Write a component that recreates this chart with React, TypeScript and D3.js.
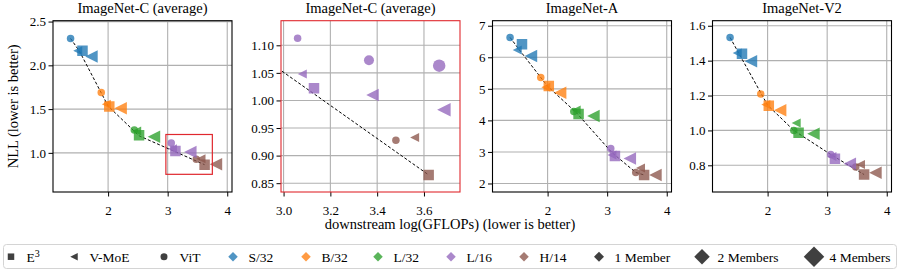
import React, { useEffect, useRef } from 'react';
import * as d3 from 'd3';

// model sizes and their colours
const MODELS = ['S/32', 'B/32', 'L/32', 'L/16', 'H/14'];
const COLORS = ['#1f77b4', '#ff7f0e', '#2ca02c', '#9467bd', '#8c564b'];

// downstream log(GFLOPs), shared by all panels
const X_VIT = [1.37, 1.885, 2.44, 3.06, 3.48];
const X_VMOE_1 = [1.49, 1.97, 2.48, 3.08, 3.56];
const X_E3 = [1.57, 2.02, 2.52, 3.13, 3.62];
const X_VMOE_2 = [1.72, 2.21, 2.77, 3.38, 3.81];

// ImageNet-C (average) NLL
const C_VIT = [2.307, 1.69, 1.26, 1.113, 0.928];
const C_VMOE_1 = [2.167, 1.555, 1.25, 1.048, 0.933];
const C_E3 = [2.167, 1.53, 1.2, 1.022, 0.865];
const C_VMOE_2 = [2.1, 1.51, 1.185, 1.01, 0.87];
const C_FRONT_X = [1.37, 1.52, 2.0, 2.52, 3.62];
const C_FRONT_Y = [2.307, 2.16, 1.535, 1.195, 0.865];

// zoomed panel: extra L/16 ensembles
const ZOOM_VIT_X = [3.365, 3.665];
const ZOOM_VIT_Y = [1.073, 1.063];
const ZOOM_VIT_M = [2, 4];
const ZOOM_VMOE_X = [3.685];
const ZOOM_VMOE_Y = [0.983];
const ZOOM_VMOE_M = [4];
const ZOOM_BOX_X = [2.97, 3.75];
const ZOOM_BOX_Y = [0.755, 1.21];

// ImageNet-A NLL
const A_VIT = [6.63, 5.36, 4.28, 3.11, 2.35];
const A_VMOE_1 = [6.23, 5.05, 4.33, 2.9, 2.49];
const A_E3 = [6.41, 5.09, 4.2, 2.87, 2.27];
const A_VMOE_2 = [6.04, 4.88, 4.14, 2.79, 2.27];
const A_FRONT_X = [1.37, 1.52, 2.0, 2.48, 3.08, 3.48, 3.62];
const A_FRONT_Y = [6.63, 6.25, 5.08, 4.25, 2.98, 2.35, 2.27];

// ImageNet-V2 NLL
const V2_VIT = [1.533, 1.209, 1.0, 0.862, 0.79];
const V2_VMOE_1 = [1.444, 1.148, 1.042, 0.85, 0.805];
const V2_E3 = [1.44, 1.142, 0.987, 0.837, 0.747];
const V2_VMOE_2 = [1.397, 1.115, 0.981, 0.809, 0.757];
const V2_FRONT_X = [1.37, 1.52, 2.0, 2.44, 3.06, 3.62];
const V2_FRONT_Y = [1.533, 1.44, 1.145, 1.0, 0.862, 0.747];

const TITLES = ['ImageNet-C (average)', 'ImageNet-C (average)', 'ImageNet-A', 'ImageNet-V2'];
const X_TICKS = [[2, 3, 4], [3.0, 3.2, 3.4, 3.6], [2, 3, 4], [2, 3, 4]];
const Y_TICKS = [
  [1.0, 1.5, 2.0, 2.5],
  [0.85, 0.9, 0.95, 1.0, 1.05, 1.1],
  [2, 3, 4, 5, 6, 7],
  [0.8, 1.0, 1.2, 1.4, 1.6],
];
const Y_FORMATS = ['.1f', '.2f', 'd', '.1f'];

const LEGEND_LABELS = ['E3', 'V-MoE', 'ViT', ...MODELS, '1 Member', '2 Members', '4 Members'];

type Kind = 'vit' | 'vmoe' | 'e3';
interface Pt { x: number; y: number; m: number; kind: Kind; members: number; }

const FONT = '"Liberation Serif", "Times New Roman", serif';
const RED = '#e0282e';
const PW = 179;
const TOP = 20.7;
const PH = 171.3;
const LEFTS = [53, 281, 492.5, 712.5];
const X_DOMAINS = [[1.075, 4.08], [2.989, 3.754], [1.075, 4.08], [1.075, 4.08]];
const Y_DOMAINS = [[0.553, 2.51], [0.834, 1.1446], [1.73, 7.16], [0.647, 1.629]];

// marker size (px) by kind and ensemble members
const SIZE: Record<Kind, Record<number, number>> = {
  vit: { 1: 7.5, 2: 10, 4: 12.5 },
  vmoe: { 1: 9, 2: 12.5, 4: 13.5 },
  e3: { 2: 10.5 },
};

const build = (vit: number[], v1: number[], e3: number[], v2: number[]): Pt[] => {
  const pts: Pt[] = [];
  MODELS.forEach((_, m) => {
    pts.push({ x: X_VIT[m], y: vit[m], m, kind: 'vit', members: 1 });
    pts.push({ x: X_VMOE_1[m], y: v1[m], m, kind: 'vmoe', members: 1 });
    pts.push({ x: X_E3[m], y: e3[m], m, kind: 'e3', members: 2 });
    pts.push({ x: X_VMOE_2[m], y: v2[m], m, kind: 'vmoe', members: 2 });
  });
  return pts;
};

const C_PTS = build(C_VIT, C_VMOE_1, C_E3, C_VMOE_2);
const ZOOM_PTS: Pt[] = [
  ...C_PTS,
  ...ZOOM_VIT_X.map((x, i) => ({ x, y: ZOOM_VIT_Y[i], m: 3, kind: 'vit' as Kind, members: ZOOM_VIT_M[i] })),
  ...ZOOM_VMOE_X.map((x, i) => ({ x, y: ZOOM_VMOE_Y[i], m: 3, kind: 'vmoe' as Kind, members: ZOOM_VMOE_M[i] })),
];
const PANEL_PTS = [C_PTS, ZOOM_PTS, build(A_VIT, A_VMOE_1, A_E3, A_VMOE_2), build(V2_VIT, V2_VMOE_1, V2_E3, V2_VMOE_2)];
const FRONTS = [
  [C_FRONT_X, C_FRONT_Y], [C_FRONT_X, C_FRONT_Y], [A_FRONT_X, A_FRONT_Y], [V2_FRONT_X, V2_FRONT_Y],
];

const markerPath = (kind: string, s: number) => {
  const h = s / 2;
  if (kind === 'vit') return `M${h},0A${h},${h} 0 1,1 ${-h},0A${h},${h} 0 1,1 ${h},0Z`;
  if (kind === 'e3') return `M${-h},${-h}H${h}V${h}H${-h}Z`;
  if (kind === 'vmoe') return `M${-h},0L${h},${-h}L${h},${h}Z`;
  return `M0,${-h}L${h},0L0,${h}L${-h},0Z`; // diamond
};

export default function App() {
  const svgRef = useRef<SVGSVGElement>(null);

  useEffect(() => {
    if (!svgRef.current) return;
    const svg = d3.select(svgRef.current);
    svg.selectAll('*').remove();

    TITLES.forEach((title, i) => {
      const x = d3.scaleLinear().domain(X_DOMAINS[i]).range([0, PW]);
      const y = d3.scaleLinear().domain(Y_DOMAINS[i]).range([PH, 0]);
      const g = svg.append('g').attr('transform', `translate(${LEFTS[i]},${TOP})`);

      // grid
      g.selectAll('.gx').data(X_TICKS[i]).join('line')
        .attr('x1', d => x(d)).attr('x2', d => x(d)).attr('y1', 0).attr('y2', PH)
        .attr('stroke', '#b0b0b0').attr('stroke-width', 1.1);
      g.selectAll('.gy').data(Y_TICKS[i]).join('line')
        .attr('y1', d => y(d)).attr('y2', d => y(d)).attr('x1', 0).attr('x2', PW)
        .attr('stroke', '#b0b0b0').attr('stroke-width', 1.1);

      g.append('clipPath').attr('id', `clip${i}`)
        .append('rect').attr('width', PW).attr('height', PH);
      const plot = g.append('g').attr('clip-path', `url(#clip${i})`);

      // frontier
      const [fx, fy] = FRONTS[i];
      const line = d3.line<number>().x((_, k) => x(fx[k])).y((_, k) => y(fy[k]));
      plot.append('path').attr('d', line(fx) as string)
        .attr('fill', 'none').attr('stroke', '#000').attr('stroke-width', 1)
        .attr('stroke-dasharray', '3,2');

      // markers
      const order: Kind[] = ['vit', 'vmoe', 'e3'];
      const pts = [...PANEL_PTS[i]].sort((a, b) => order.indexOf(a.kind) - order.indexOf(b.kind));
      plot.selectAll('.pt').data(pts).join('path')
        .attr('d', d => markerPath(d.kind, SIZE[d.kind][d.members]))
        .attr('transform', d => `translate(${x(d.x)},${y(d.y)})`)
        .attr('fill', d => COLORS[d.m]).attr('fill-opacity', 0.78);

      if (i === 0) {
        g.append('rect')
          .attr('x', x(ZOOM_BOX_X[0])).attr('y', y(ZOOM_BOX_Y[1]))
          .attr('width', x(ZOOM_BOX_X[1]) - x(ZOOM_BOX_X[0]))
          .attr('height', y(ZOOM_BOX_Y[0]) - y(ZOOM_BOX_Y[1]))
          .attr('fill', 'none').attr('stroke', RED).attr('stroke-width', 1.2);
      }

      // axes
      const ax = g.append('g').attr('transform', `translate(0,${PH})`)
        .call(d3.axisBottom(x).tickValues(X_TICKS[i]).tickFormat(d3.format(i === 1 ? '.1f' : 'd') as any)
          .tickSize(4.5).tickPadding(9));
      const ay = g.append('g')
        .call(d3.axisLeft(y).tickValues(Y_TICKS[i]).tickFormat(d3.format(Y_FORMATS[i]) as any)
          .tickSize(4.5).tickPadding(2.5));
      [ax, ay].forEach(a => {
        a.attr('font-family', FONT).attr('font-size', 13);
        a.select('.domain').remove();
        a.selectAll('text').style('font-family', FONT).style('font-size', '13px').attr('fill', '#000');
        a.selectAll('line').attr('stroke', '#000');
      });

      g.append('rect').attr('width', PW).attr('height', PH)
        .attr('fill', 'none').attr('stroke', i === 1 ? RED : '#000').attr('stroke-width', 1.1);

      g.append('text').attr('x', PW / 2).attr('y', -7.5).attr('text-anchor', 'middle')
        .attr('font-family', FONT).attr('font-size', 14.5).text(title);
    });

    svg.append('text').attr('transform', `translate(18,${TOP + PH / 2}) rotate(-90)`)
      .attr('text-anchor', 'middle').attr('font-family', FONT).attr('font-size', 14.5)
      .text('NLL (lower is better)');
    svg.append('text').attr('x', 450).attr('y', 229).attr('text-anchor', 'middle')
      .attr('font-family', FONT).attr('font-size', 14.5)
      .text('downstream log(GFLOPs) (lower is better)');

    // legend
    const lg = svg.append('g');
    lg.append('rect').attr('x', 3.5).attr('y', 244.5).attr('width', 893).attr('height', 24)
      .attr('rx', 3).attr('fill', '#fff').attr('stroke', '#d4d4d4').attr('stroke-width', 1);
    const legX = [11, 74, 164, 233, 306, 378, 451, 524, 599, 702, 814];
    const legShape = ['e3', 'vmoe', 'vit', 'd', 'd', 'd', 'd', 'd', 'd', 'd', 'd'];
    const legSize = [6.5, 7.5, 7, 9.5, 9.5, 9.5, 9.5, 9.5, 10, 15.5, 20.5];
    LEGEND_LABELS.forEach((label, k) => {
      const isModel = k >= 3 && k < 8;
      lg.append('path').attr('d', markerPath(legShape[k], legSize[k]))
        .attr('transform', `translate(${legX[k]},256.7)`)
        .attr('fill', isModel ? COLORS[k - 3] : '#000')
        .attr('fill-opacity', isModel ? 0.78 : 0.75);
      const t = lg.append('text').attr('x', legX[k] + 15.5).attr('y', 261.5)
        .attr('font-family', FONT).attr('font-size', 13.5);
      if (label === 'E3') {
        t.append('tspan').text('E');
        t.append('tspan').attr('dy', -5).attr('font-size', 10).text('3');
      } else {
        t.text(label);
      }
    });
  }, []);

  return (
    <svg ref={svgRef} width={900} height={270}
      style={{ position: 'absolute', left: 0, top: 0, background: '#fff' }} />
  );
}
